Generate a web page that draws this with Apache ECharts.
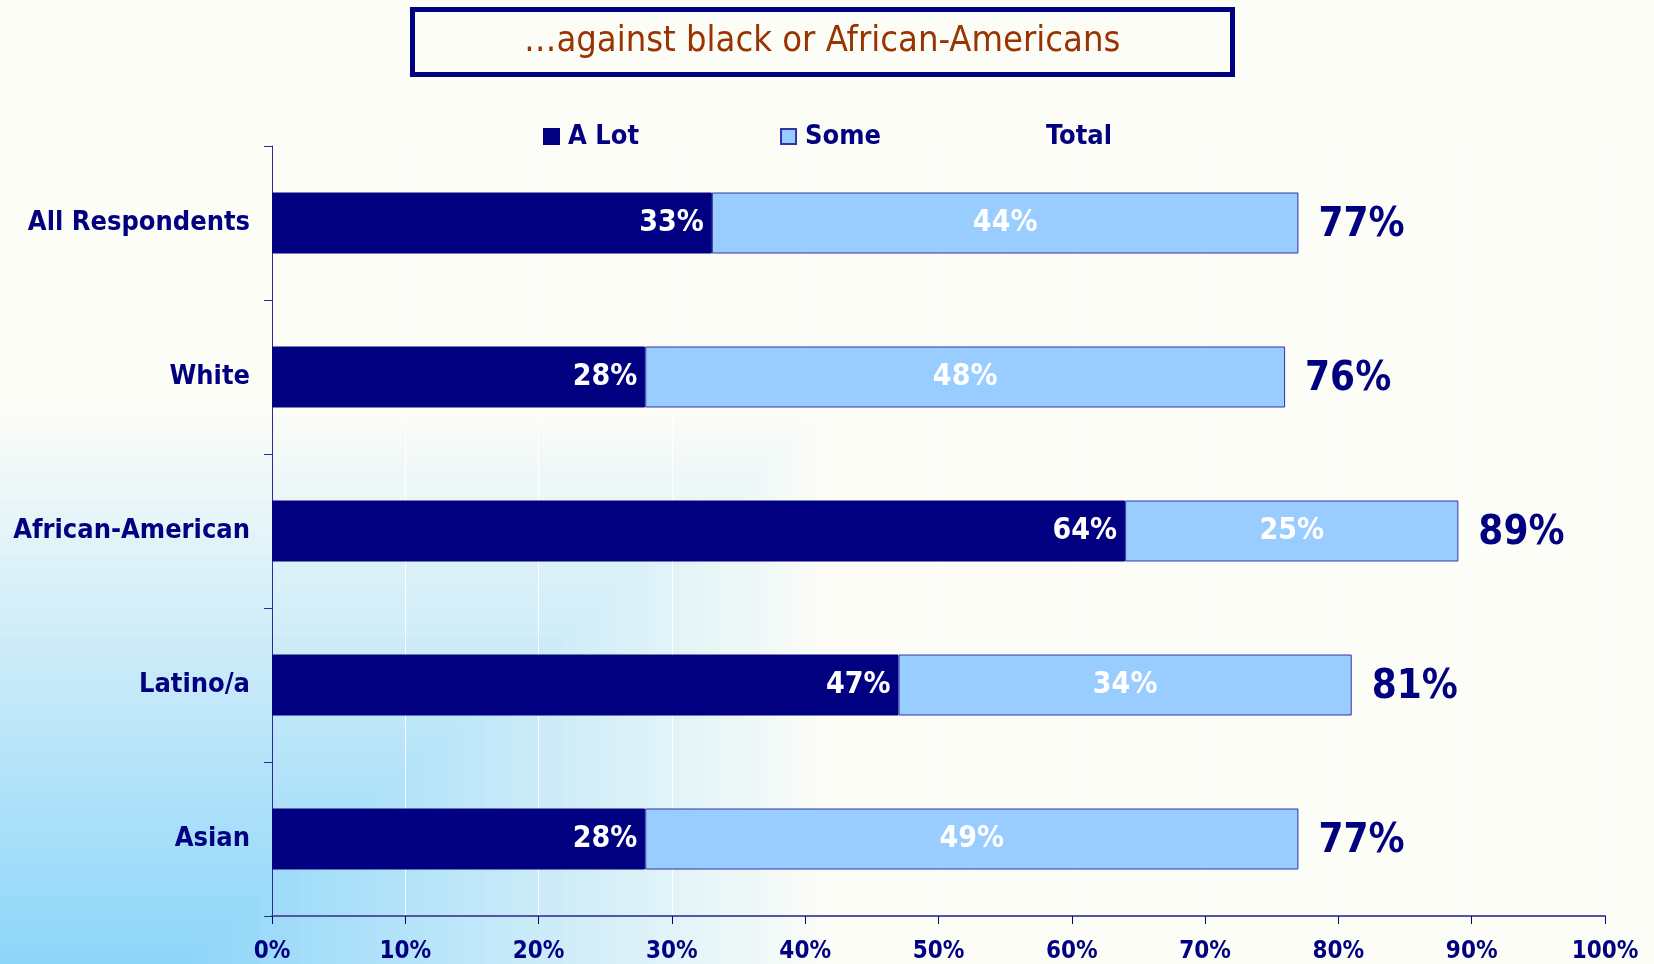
<!DOCTYPE html>
<html>
<head>
<meta charset="utf-8">
<title>against black or African-Americans</title>
<script src="https://cdn.jsdelivr.net/npm/echarts@6/dist/echarts.min.js"></script>
<style>
  html, body { margin: 0; padding: 0; background: #fdfdf8; }
  #chart { width: 1654px; height: 964px; }
</style>
</head>
<body>
<div id="chart"></div>
<script>
  // 数据
  var categories = ['All Respondents', 'White', 'African-American', 'Latino/a', 'Asian'];
  var aLot = [33, 28, 64, 47, 28];
  var some = [44, 48, 25, 34, 49];
  var total = [77, 76, 89, 81, 77];
  var xTicks = [0, 10, 20, 30, 40, 50, 60, 70, 80, 90, 100];

  var FONT = "'DejaVu Sans Condensed', 'DejaVu Sans', sans-serif";
  var NAVY = '#000080';

  // 左下角的矩形渐变背景
  function cornerGradient() {
    var steps = 50, W0 = 180, W = 660, H = 565;
    var from = [253, 253, 248], to = [140, 213, 249];
    var list = [];
    for (var i = 0; i < steps; i++) {
      var s = 1 - i / steps;
      var t = 1 - s;
      var c = from.map(function (v, k) { return Math.round(v + (to[k] - v) * t); });
      list.push({
        type: 'rect',
        left: 0,
        bottom: 0,
        z: -10,
        silent: true,
        shape: { width: W0 + W * s, height: H * s },
        style: { fill: 'rgb(' + c.join(',') + ')' }
      });
    }
    return list;
  }

  var chart = echarts.init(document.getElementById('chart'));
  chart.setOption({
    animation: false,
    backgroundColor: '#fdfdf8',
    graphic: cornerGradient(),
    title: {
      text: '\u2026against black or African-Americans',
      left: 412,
      top: 9,
      padding: [15, 112, 15, 112],
      borderColor: NAVY,
      borderWidth: 5,
      backgroundColor: '#fdfdf8',
      textStyle: {
        color: '#993300',
        fontFamily: FONT,
        fontWeight: 'normal',
        fontSize: 36
      }
    },
    legend: {
      top: 118,
      left: 538,
      itemGap: 141,
      itemWidth: 15,
      itemHeight: 15,
      icon: 'rect',
      selectedMode: false,
      data: ['A Lot', 'Some', 'Total'],
      textStyle: {
        color: NAVY,
        fontFamily: FONT,
        fontWeight: 'bold',
        fontSize: 27,
        padding: [0, 0, 0, 4]
      }
    },
    grid: { left: 272, right: 49, top: 146, bottom: 44 },
    xAxis: {
      type: 'value',
      min: 0,
      max: 100,
      interval: 10,
      axisLine: { show: true, lineStyle: { color: '#5555a8', width: 2 } },
      axisTick: { show: true, length: 8, lineStyle: { color: NAVY } },
      splitLine: { show: true, lineStyle: { color: '#ffffff', width: 1 } },
      axisLabel: {
        margin: 24,
        color: NAVY,
        fontFamily: FONT,
        fontWeight: 'bold',
        fontSize: 24,
        formatter: function (v) {
          return xTicks.indexOf(v) > -1 ? v + '%' : '';
        }
      }
    },
    yAxis: {
      type: 'category',
      inverse: true,
      data: categories,
      axisLine: { show: true, lineStyle: { color: '#2a2a9a', width: 1 } },
      axisTick: { show: true, length: 8, lineStyle: { color: '#2a2a9a' } },
      axisLabel: {
        margin: 22,
        color: NAVY,
        fontFamily: FONT,
        fontWeight: 'bold',
        fontSize: 27,
        padding: [5, 0, 0, 0]
      }
    },
    series: [
      {
        name: 'A Lot',
        type: 'bar',
        stack: 'resp',
        barWidth: 61,
        data: aLot,
        itemStyle: { color: NAVY, borderColor: NAVY, borderWidth: 1 },
        label: {
          show: true,
          position: 'insideRight',
          distance: 8,
          formatter: '{c}%',
          color: '#ffffff',
          fontFamily: FONT,
          fontWeight: 'bold',
          fontSize: 30
        }
      },
      {
        name: 'Some',
        type: 'bar',
        stack: 'resp',
        barWidth: 61,
        data: some,
        itemStyle: { color: '#99ccff', borderColor: '#3333aa', borderWidth: 1 },
        label: {
          show: true,
          position: 'inside',
          formatter: '{c}%',
          color: '#ffffff',
          fontFamily: FONT,
          fontWeight: 'bold',
          fontSize: 30
        }
      },
      {
        // 透明柱子，只用来放总数
        name: 'Total',
        type: 'bar',
        barWidth: 61,
        barGap: '-100%',
        z: 1,
        data: total,
        itemStyle: { color: 'rgba(0,0,0,0)' },
        label: {
          show: true,
          position: 'right',
          distance: 20,
          offset: [0, 3],
          formatter: '{c}%',
          color: NAVY,
          fontFamily: FONT,
          fontWeight: 'bold',
          fontSize: 40
        }
      }
    ]
  });
</script>
</body>
</html>
